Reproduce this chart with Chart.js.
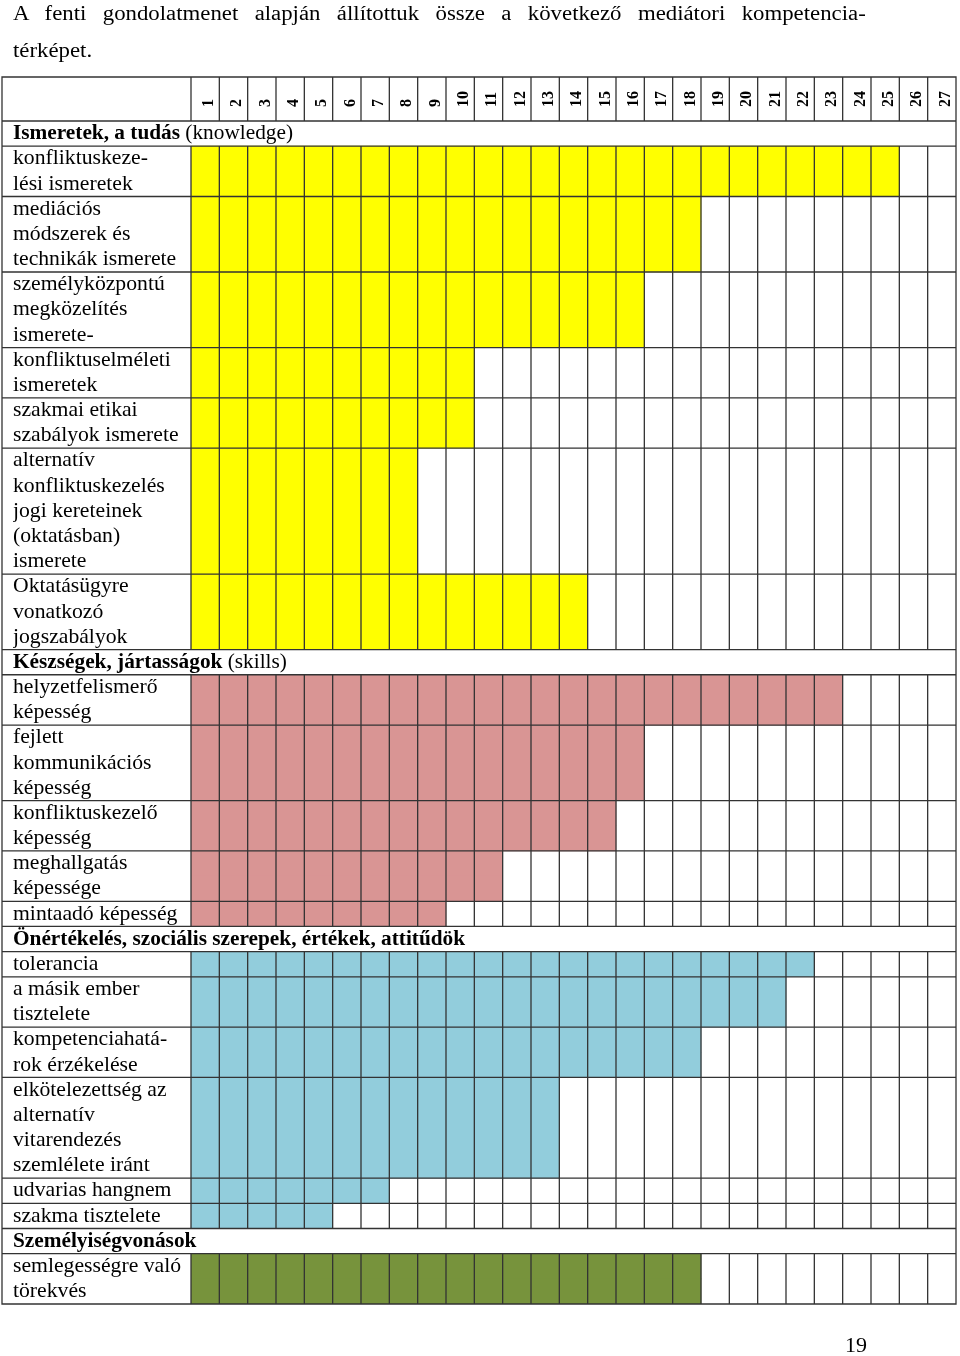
<!DOCTYPE html>
<html>
<head>
<meta charset="utf-8">
<script src="https://cdn.jsdelivr.net/npm/chart.js@4.4.1/dist/chart.umd.min.js"></script>
<style>
  html, body { margin: 0; padding: 0; background: #fff; }
  #page { position: relative; width: 960px; height: 1356px; overflow: hidden; font-family: "Liberation Serif", "Times New Roman", serif; color: #000; }
  #wrap { position: absolute; left: 0; top: 0; width: 960px; height: 1356px; }
  .txt { position: absolute; font-size: 22px; line-height: 26px; white-space: nowrap; }
  .wide { font-size: 20px; transform: scaleX(1.14); transform-origin: 0 0; }
  #intro1 { left: 13px; top: 0px; width: 748px; text-align: justify; text-align-last: justify; }
  #intro2 { left: 13px; top: 37px; }
  #pageno { left: 845px; top: 1332px; }
</style>
</head>
<body>
<div id="page">
  <div id="wrap"><canvas id="mapChart"></canvas></div>
  <div class="txt wide" id="intro1">A fenti gondolatmenet alapján állítottuk össze a következő mediátori kompetencia-</div>
  <div class="txt wide" id="intro2">térképet.</div>
  <div class="txt" id="pageno">19</div>
</div>
<script>
// column numbers across the top
const columnLabels = ['1', '2', '3', '4', '5', '6', '7', '8', '9', '10', '11', '12', '13', '14',
  '15', '16', '17', '18', '19', '20', '21', '22', '23', '24', '25', '26', '27'];

// section headers (bold part + plain part)
const sectionTitles = ['Ismeretek, a tudás', 'Készségek, jártasságok',
  'Önértékelés, szociális szerepek, értékek, attitűdök', 'Személyiségvonások'];
const sectionNotes = [' (knowledge)', ' (skills)', '', ''];

// rows: label lines + number of filled columns
const knowledgeItems = [
  ['konfliktuskeze-', 'lési ismeretek'],
  ['mediációs', 'módszerek és', 'technikák ismerete'],
  ['személyközpontú', 'megközelítés', 'ismerete-'],
  ['konfliktuselméleti', 'ismeretek'],
  ['szakmai etikai', 'szabályok ismerete'],
  ['alternatív', 'konfliktuskezelés', 'jogi kereteinek', '(oktatásban)', 'ismerete'],
  ['Oktatásügyre', 'vonatkozó', 'jogszabályok']
];
const knowledgeCols = [25, 18, 16, 10, 10, 8, 14];

const skillItems = [
  ['helyzetfelismerő', 'képesség'],
  ['fejlett', 'kommunikációs', 'képesség'],
  ['konfliktuskezelő', 'képesség'],
  ['meghallgatás', 'képessége'],
  ['mintaadó képesség']
];
const skillCols = [23, 16, 15, 11, 9];

const attitudeItems = [
  ['tolerancia'],
  ['a másik ember', 'tisztelete'],
  ['kompetenciahatá-', 'rok érzékelése'],
  ['elkötelezettség az', 'alternatív', 'vitarendezés', 'szemlélete iránt'],
  ['udvarias hangnem'],
  ['szakma tisztelete']
];
const attitudeCols = [22, 21, 18, 13, 7, 5];

const personalityItems = [
  ['semlegességre való', 'törekvés']
];
const personalityCols = [18];

const sectionItems = [knowledgeItems, skillItems, attitudeItems, personalityItems];
const sectionCols = [knowledgeCols, skillCols, attitudeCols, personalityCols];
const fills = ['#ffff00', '#d99594', '#92cddc', '#77933c'];

const FONT = "'Liberation Serif', 'Times New Roman', serif";

// one category per text line, bars repeated over every line of a row
const lineLabels = [];
const rowBands = [];
const groupData = fills.map(() => []);
sectionTitles.forEach((title, s) => {
  rowBands.push({ first: lineLabels.length, last: lineLabels.length, header: s });
  lineLabels.push('');
  groupData.forEach(d => d.push(null));
  sectionItems[s].forEach((lines, r) => {
    const first = lineLabels.length;
    lines.forEach(t => {
      lineLabels.push(t);
      groupData.forEach((d, g) => d.push(g === s ? [0, sectionCols[s][r]] : null));
    });
    rowBands.push({ first, last: lineLabels.length - 1, header: -1 });
  });
});

// table rules + section header text
const tablePlugin = {
  id: 'tableRules',
  afterDatasetsDraw(chart) {
    const { ctx, chartArea: a } = chart;
    const x = chart.scales.x, y = chart.scales.y;
    const left = y.left - 11, top = x.top;
    const cols = columnLabels.map((l, i) => x.getPixelForValue(i));

    ctx.save();
    ctx.strokeStyle = '#333';
    ctx.lineWidth = 1.3;
    ctx.beginPath();
    const verticals = (t, b) => cols.forEach(px => { ctx.moveTo(px, t); ctx.lineTo(px, b); });
    verticals(top, a.top);
    ctx.moveTo(left, a.top); ctx.lineTo(a.right, a.top);
    rowBands.forEach(r => {
      const t = y.getPixelForValue(r.first - 0.5), b = y.getPixelForValue(r.last + 0.5);
      if (r.header < 0) verticals(t, b);
      ctx.moveTo(left, b); ctx.lineTo(a.right, b);
    });
    ctx.rect(left, top, a.right - left, a.bottom - top);
    ctx.stroke();

    ctx.fillStyle = '#000';
    ctx.textBaseline = 'middle';
    ctx.textAlign = 'left';
    rowBands.filter(r => r.header >= 0).forEach(r => {
      const py = y.getPixelForValue(r.first);
      ctx.font = 'bold 21.3px ' + FONT;
      ctx.fillText(sectionTitles[r.header], left + 11, py);
      const w = ctx.measureText(sectionTitles[r.header]).width;
      ctx.font = '21.3px ' + FONT;
      ctx.fillText(sectionNotes[r.header], left + 11 + w, py);
    });
    ctx.restore();
  }
};

new Chart(document.getElementById('mapChart').getContext('2d'), {
  type: 'bar',
  data: {
    labels: lineLabels,
    datasets: fills.map((c, g) => ({
      data: groupData[g],
      backgroundColor: c,
      borderWidth: 0,
      grouped: false,
      barPercentage: 1,
      categoryPercentage: 1
    }))
  },
  options: {
    indexAxis: 'y',
    responsive: true,
    maintainAspectRatio: false,
    animation: false,
    layout: { padding: { left: 13, right: 4, top: 77, bottom: 52 } },
    plugins: { legend: { display: false }, tooltip: { enabled: false } },
    scales: {
      x: {
        type: 'linear',
        position: 'top',
        min: 0,
        max: 27,
        grid: { display: false, drawTicks: false },
        border: { display: false },
        afterBuildTicks: s => { s.ticks = columnLabels.map((l, i) => ({ value: i + 0.5 })); },
        afterFit: s => { s.height = 44; },
        ticks: {
          autoSkip: false,
          minRotation: 90,
          maxRotation: 90,
          padding: 14,
          labelOffset: 23,
          color: '#000',
          font: { family: FONT, size: 16, weight: 'bold' },
          callback: (v, i) => columnLabels[i]
        }
      },
      y: {
        type: 'category',
        grid: { display: false, drawTicks: false },
        border: { display: false },
        afterFit: s => { s.width = 178; },
        ticks: {
          autoSkip: false,
          crossAlign: 'far',
          padding: 0,
          color: '#000',
          font: { family: FONT, size: 21.7 }
        }
      }
    }
  },
  plugins: [tablePlugin]
});
</script>
</body>
</html>
